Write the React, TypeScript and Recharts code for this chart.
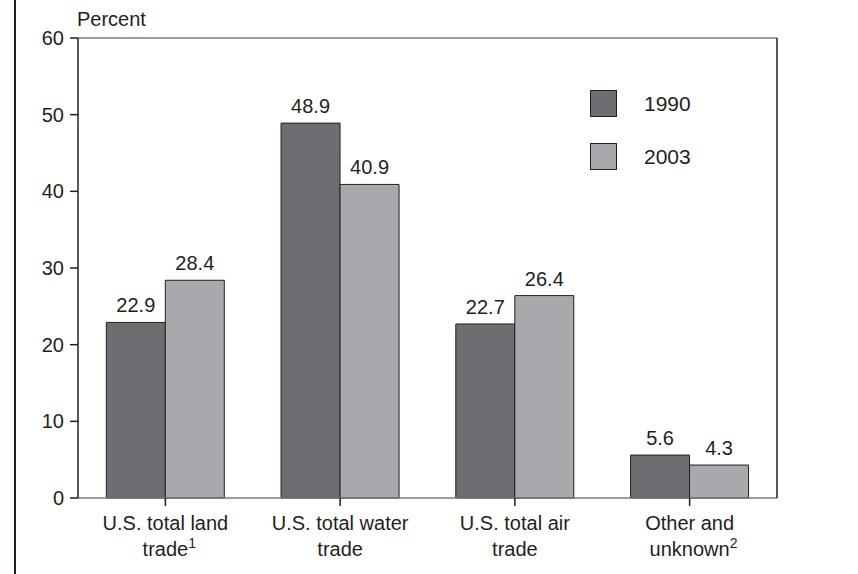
import { BarChart, Bar, XAxis, YAxis, LabelList, ReferenceLine } from 'recharts';

const categoryLine1 = ['U.S. total land', 'U.S. total water', 'U.S. total air', 'Other and'];
const categoryLine2 = ['trade', 'trade', 'trade', 'unknown'];
const footnotes = ['1', '', '', '2'];
const values1990 = [22.9, 48.9, 22.7, 5.6];
const values2003 = [28.4, 40.9, 26.4, 4.3];
const yTicks = [0, 10, 20, 30, 40, 50, 60];
const seriesNames = ['1990', '2003'];

const FONT = '"Liberation Sans", Arial, sans-serif';
const INK = '#231f20';
const DARK = '#6d6e71';
const LIGHT = '#a7a9ac';

const data = categoryLine1.map((_, i) => ({
  name: String(i),
  y1990: values1990[i],
  y2003: values2003[i],
}));

function CategoryTick(props: any) {
  const { x, y, payload } = props;
  const i = Number(payload.value);
  const sup = footnotes[i];
  return (
    <g>
      <text x={x} y={y + 22} textAnchor="middle" fontSize={20} fill={INK} fontFamily={FONT}>
        {categoryLine1[i]}
      </text>
      <text x={x} y={y + 48} textAnchor="middle" fontSize={20} fill={INK} fontFamily={FONT}>
        {/* invisible copy keeps the main word centred on the tick */}
        {sup && <tspan fontSize={14} fill="transparent">{sup}</tspan>}
        <tspan>{categoryLine2[i]}</tspan>
        {sup && <tspan fontSize={14} dy={-8}>{sup}</tspan>}
      </text>
    </g>
  );
}

function LegendBox() {
  const colors = [DARK, LIGHT];
  return (
    <div style={{ position: 'absolute', left: 590, top: 90, fontFamily: FONT, color: INK }}>
      {seriesNames.map((s, i) => (
        <div key={s} style={{ display: 'flex', alignItems: 'center', height: 27, marginBottom: 26 }}>
          <div style={{ width: 25, height: 25, background: colors[i], border: `1px solid ${INK}` }} />
          <span style={{ marginLeft: 27, fontSize: 21, lineHeight: '27px' }}>{s}</span>
        </div>
      ))}
    </div>
  );
}

export default function App() {
  return (
    <div style={{ position: 'absolute', left: 0, top: 0, width: 858, height: 574, background: '#fff' }}>
      <div style={{ position: 'absolute', left: 14, top: 0, width: 2, height: 574, background: INK }} />
      <div
        style={{
          position: 'absolute',
          left: 77,
          top: 9,
          fontFamily: FONT,
          fontSize: 20,
          lineHeight: '20px',
          color: INK,
        }}
      >
        Percent
      </div>
      <BarChart
        width={858}
        height={574}
        data={data}
        margin={{ top: 38, right: 0, bottom: 0, left: 0 }}
        barCategoryGap="16.2%"
        barGap={0}
      >
        <XAxis
          dataKey="name"
          height={76}
          interval={0}
          tickSize={8}
          tick={<CategoryTick />}
          axisLine={{ stroke: '#7a7a7a', strokeWidth: 1.5 }}
          tickLine={{ stroke: INK, strokeWidth: 1.5 }}
        />
        <YAxis
          width={78}
          domain={[0, 60]}
          ticks={yTicks}
          interval={0}
          tickSize={8}
          tickMargin={6}
          tick={{ fontSize: 20, fill: INK, fontFamily: FONT }}
          axisLine={{ stroke: INK, strokeWidth: 1.5 }}
          tickLine={{ stroke: INK, strokeWidth: 1.5 }}
        />
        <YAxis
          yAxisId="right"
          orientation="right"
          width={81}
          tick={false}
          tickLine={false}
          axisLine={{ stroke: INK, strokeWidth: 1.5 }}
        />
        <ReferenceLine y={60} stroke="#7a7a7a" strokeWidth={1.5} />
        <Bar dataKey="y1990" name="1990" fill={DARK} stroke={INK} strokeWidth={1} isAnimationActive={false}>
          <LabelList dataKey="y1990" position="top" offset={10} fontSize={20} fill={INK} fontFamily={FONT} />
        </Bar>
        <Bar dataKey="y2003" name="2003" fill={LIGHT} stroke={INK} strokeWidth={1} isAnimationActive={false}>
          <LabelList dataKey="y2003" position="top" offset={10} fontSize={20} fill={INK} fontFamily={FONT} />
        </Bar>
      </BarChart>
      <LegendBox />
    </div>
  );
}
